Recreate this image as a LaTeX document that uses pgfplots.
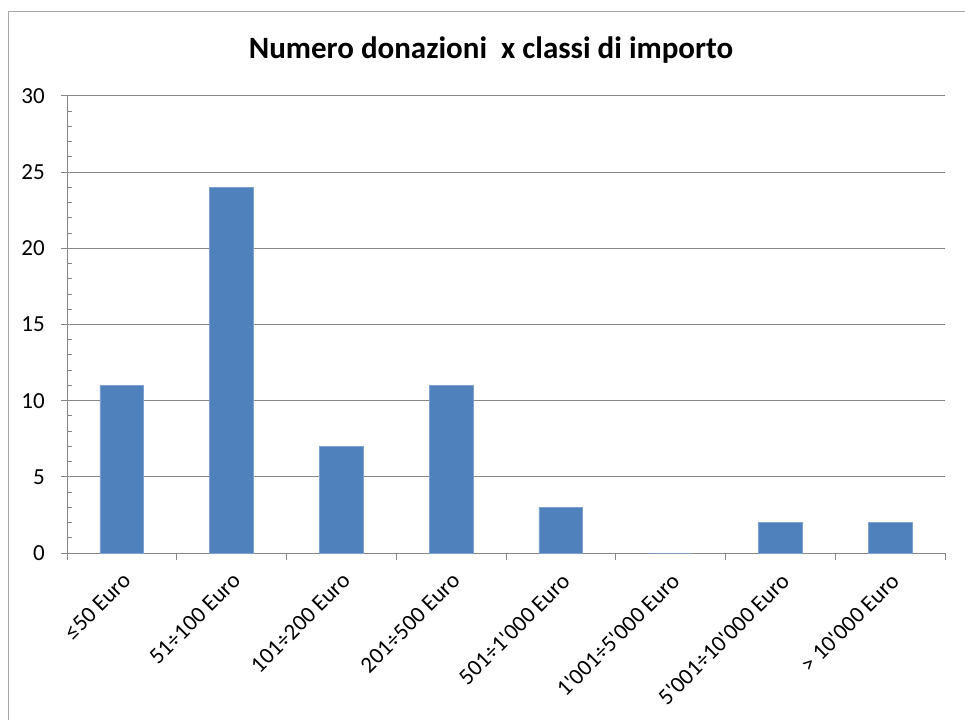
\documentclass[border=0pt]{standalone}
\usepackage{fontspec}
\setmainfont{Carlito}
\usepackage{pgfplots}
\pgfplotsset{compat=1.18}
\definecolor{barblue}{HTML}{4F81BD}
\definecolor{baredge}{HTML}{7FA1D0}
\definecolor{axisgray}{HTML}{868686}
\definecolor{framegray}{HTML}{A6A6A6}
\begin{document}
\begin{tikzpicture}[x=1pt,y=1pt]
\useasboundingbox (0,0) rectangle (965,720);
\draw[framegray, line width=1.5pt] (8.5,0) -- (8.5,708.5) -- (965,708.5);
\node[font=\fontsize{31}{36}\selectfont\bfseries, anchor=base, inner sep=0pt] at (491,661) {Numero donazioni\ \ x classi di importo};
\begin{axis}[
  at={(67pt,167pt)}, anchor=south west,
  scale only axis, width=878pt, height=457pt,
  xmin=-0.5, xmax=7.5, ymin=0, ymax=30,
  axis x line=bottom, axis y line=left,
  axis line style={axisgray, line width=1pt, -},
  ytick={0,5,...,30}, minor y tick num=4,
  tick align=inside, major tick length=-6pt, minor tick length=5pt,
  tick style={axisgray, line width=1pt},
  ymajorgrids, grid style={axisgray, line width=1pt},
  xtick={0,...,7},
  xticklabels={{≤50 Euro},{51÷100 Euro},{101÷200 Euro},{201÷500 Euro},{501÷1\textquotesingle000 Euro},{1\textquotesingle001÷5\textquotesingle000 Euro},{5\textquotesingle001÷10\textquotesingle000 Euro},{> 10\textquotesingle000 Euro}},
  xtick style={draw=none},
  /pgf/number format/assume math mode=true,
  ticklabel style={font=\fontsize{23}{27}\selectfont, text=black},
  xticklabel style={xshift=5pt, yshift=-24pt, rotate=45, anchor=east, inner sep=0pt},
  yticklabel style={anchor=east, inner sep=0pt, xshift=-22pt},
]
\addplot[ybar, bar width=43.9pt, fill=barblue, draw=baredge, line width=0.8pt]
  coordinates {(0,11) (1,24) (2,7) (3,11) (4,3) (5,0) (6,2) (7,2)};
\end{axis}
\begin{axis}[
  at={(67pt,167pt)}, anchor=south west,
  scale only axis, width=878pt, height=457pt,
  xmin=-0.5, xmax=7.5, ymin=0, ymax=30,
  axis x line=bottom, axis y line=none,
  axis line style={draw=none},
  xtick={-0.5,0.5,1.5,2.5,3.5,4.5,5.5,6.5,7.5}, xticklabels={},
  ytick=\empty,
  tick align=outside, major tick length=7pt,
  tick style={axisgray, line width=1pt},
]
\addplot[draw=none] coordinates {(0,0)};
\end{axis}
\end{tikzpicture}
\end{document}
